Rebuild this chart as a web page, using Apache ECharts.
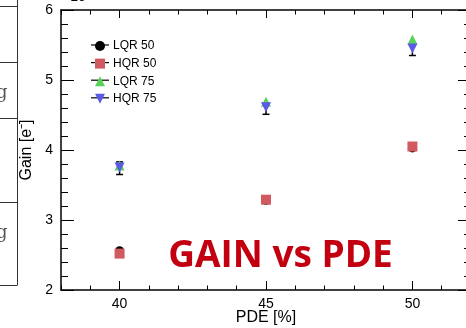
<!DOCTYPE html>
<html><head><meta charset="utf-8">
<script src="https://cdn.jsdelivr.net/npm/echarts@6/dist/echarts.min.js"></script>
<style>html,body{margin:0;padding:0;background:#fff;overflow:hidden}#c{width:466px;height:328px}</style>
</head><body><div id="c"></div>
<script>
// ---- data ----
const pde = [40, 45, 50];
const seriesNames = ['LQR 50', 'HQR 50', 'LQR 75', 'HQR 75'];
const lqr50 = [2.56, 3.28, 4.03];
const hqr50 = [2.52, 3.29, 4.05];
const lqr75 = [3.78, 4.69, 5.58];
const hqr75 = [3.75, 4.61, 5.45];
const hqr75ErrLow = [0.10, 0.10, 0.10];
const hqr75ErrHigh = [0.08, 0.06, 0.07];
const xMajorTicks = [40, 45, 50];
const xMinorTicks = [38,39,40,41,42,43,44,45,46,47,48,49,50,51,52];

const pts = (ys) => pde.map((x, i) => [x, ys[i]]);
const errData = pde.map((x, i) => [x, hqr75[i] - hqr75ErrLow[i], hqr75[i] + hqr75ErrHigh[i]]);

const colors = { 'LQR 50': '#000000', 'HQR 50': '#d05a60', 'LQR 75': '#5ad25a', 'HQR 75': '#5a5ae6' };
const downTri = 'path://M0,0 L10,0 L5,10 Z';

const chart = echarts.init(document.getElementById('c'), null, { renderer: 'canvas', width: 466, height: 328 });
const black = '#000';
const tickStyle = { color: black, width: 1 };

const xBase = { type: 'value', min: 38, max: 52, gridIndex: 0, splitLine: { show: false } };
const option = {
  animation: false,
  backgroundColor: '#fff',
  grid: { left: 61, top: 10, width: 410, height: 280, containLabel: false, outerBoundsMode: 'none' },
  xAxis: [
    Object.assign({}, xBase, {
      position: 'bottom',
      axisLine: { show: true, onZero: false, lineStyle: { color: black, width: 1.5 } },
      axisTick: { show: true, inside: true, length: 9, customValues: xMajorTicks, lineStyle: tickStyle },
      axisLabel: { show: true, customValues: xMajorTicks, color: black, fontSize: 14, margin: 7, fontFamily: 'Liberation Sans' },
      name: 'PDE [%]', nameLocation: 'middle', nameGap: 20, nameMoveOverlap: false,
      nameTextStyle: { color: black, fontSize: 16, fontFamily: 'Liberation Sans' }
    }),
    Object.assign({}, xBase, {
      position: 'bottom',
      axisLine: { show: false, onZero: false },
      axisTick: { show: true, inside: true, length: 4.5, customValues: xMinorTicks, lineStyle: tickStyle },
      axisLabel: { show: false }
    }),
    Object.assign({}, xBase, {
      position: 'top',
      axisLine: { show: true, onZero: false, lineStyle: { color: black, width: 1.5 } },
      axisTick: { show: true, inside: true, length: 8, customValues: xMajorTicks, lineStyle: tickStyle },
      axisLabel: { show: false }
    }),
    Object.assign({}, xBase, {
      position: 'top',
      axisLine: { show: false, onZero: false },
      axisTick: { show: true, inside: true, length: 4.5, customValues: xMinorTicks, lineStyle: tickStyle },
      axisLabel: { show: false }
    })
  ],
  yAxis: [
    {
      type: 'value', min: 2, max: 6, interval: 1, position: 'left',
      splitLine: { show: false },
      axisLine: { show: true, onZero: false, lineStyle: { color: black, width: 1.5 } },
      axisTick: { show: true, inside: true, length: 13, lineStyle: tickStyle },
      minorTick: { show: true, splitNumber: 5, length: 7, lineStyle: tickStyle },
      axisLabel: { color: black, fontSize: 14, margin: 8, fontFamily: 'Liberation Sans' },
      name: 'Gain [e\u207B]', nameLocation: 'middle', nameRotate: 90, nameGap: 26, nameMoveOverlap: false,
      nameTextStyle: { color: black, fontSize: 16, fontFamily: 'Liberation Sans' }
    },
    {
      type: 'value', min: 2, max: 6, interval: 1, position: 'right',
      splitLine: { show: false },
      axisLine: { show: true, onZero: false, lineStyle: { color: black, width: 1.5 } },
      axisTick: { show: true, inside: true, length: 13, lineStyle: tickStyle },
      minorTick: { show: true, splitNumber: 5, length: 7, lineStyle: tickStyle },
      axisLabel: { show: false }
    }
  ],
  legend: {
    orient: 'vertical', left: 95, top: 40, padding: 0, itemWidth: 10, itemHeight: 10, itemGap: 5.6,
    textStyle: { color: black, fontSize: 12, fontFamily: 'Liberation Sans', padding: [0, 0, 0, 3] },
    data: [
      { name: 'LQR 50', icon: 'circle' },
      { name: 'HQR 50', icon: 'rect' },
      { name: 'LQR 75', icon: 'triangle' },
      { name: 'HQR 75', icon: downTri }
    ]
  },
  series: [
    { name: 'LQR 50', type: 'scatter', data: pts(lqr50), symbol: 'circle', symbolSize: 9, itemStyle: { color: colors['LQR 50'], opacity: 1 } },
    { name: 'HQR 50', type: 'scatter', data: pts(hqr50), symbol: 'rect', symbolSize: 10, itemStyle: { color: colors['HQR 50'], opacity: 1 } },
    { name: 'LQR 75', type: 'scatter', data: pts(lqr75), symbol: 'triangle', symbolSize: 10, itemStyle: { color: colors['LQR 75'], opacity: 1 } },
    {
      name: 'err', type: 'custom', data: errData, silent: true,
      renderItem: function (params, api) {
        const x = api.value(0);
        const lo = api.coord([x, api.value(1)]);
        const hi = api.coord([x, api.value(2)]);
        const st = { stroke: '#000', lineWidth: 1.5 };
        const w = 3.5;
        return { type: 'group', children: [
          { type: 'line', shape: { x1: lo[0], y1: lo[1], x2: hi[0], y2: hi[1] }, style: st },
          { type: 'line', shape: { x1: lo[0] - w, y1: lo[1], x2: lo[0] + w, y2: lo[1] }, style: st },
          { type: 'line', shape: { x1: hi[0] - w, y1: hi[1], x2: hi[0] + w, y2: hi[1] }, style: st }
        ]};
      }
    },
    { name: 'HQR 75', type: 'scatter', data: pts(hqr75), symbol: 'triangle', symbolRotate: 180, symbolSize: 10, itemStyle: { color: colors['HQR 75'], opacity: 1 } }
  ],
  graphic: [
    // legend marker lines
    ...[45, 62.6, 80.2, 97.8].map(y => ({ type: 'line', z: 0, shape: { x1: 91, y1: y, x2: 109, y2: y }, style: { stroke: '#000', lineWidth: 1.2 } })),
    // big title text
    { type: 'text', z: 10, style: { text: 'GAIN vs PDE', x: 280.5, y: 256, textAlign: 'center', textVerticalAlign: 'middle', font: 'bold 37px "Open Sans"', fill: '#c2000f' } },
    // cut-off exponent at top
    { type: 'text', style: { text: '\u00D710\u2076', x: 62, y: 4, textAlign: 'left', textVerticalAlign: 'bottom', font: '14px "Liberation Sans"', fill: '#000' } },
    // neighbouring table fragment on the left
    { type: 'line', shape: { x1: 17.5, y1: 0, x2: 17.5, y2: 285 }, style: { stroke: '#333', lineWidth: 1 } },
    ...[6, 62, 118, 202, 285].map(y => ({ type: 'line', shape: { x1: 0, y1: y + 0.5, x2: 17.5, y2: y + 0.5 }, style: { stroke: '#333', lineWidth: 1 } })),
    { type: 'text', style: { text: 'g', x: -4, y: 84, font: '18px "DejaVu Serif"', fill: '#555' } },
    { type: 'text', style: { text: 'g', x: -4, y: 224, font: '18px "DejaVu Serif"', fill: '#555' } }
  ]
};
chart.setOption(option);
</script>
</body></html>
